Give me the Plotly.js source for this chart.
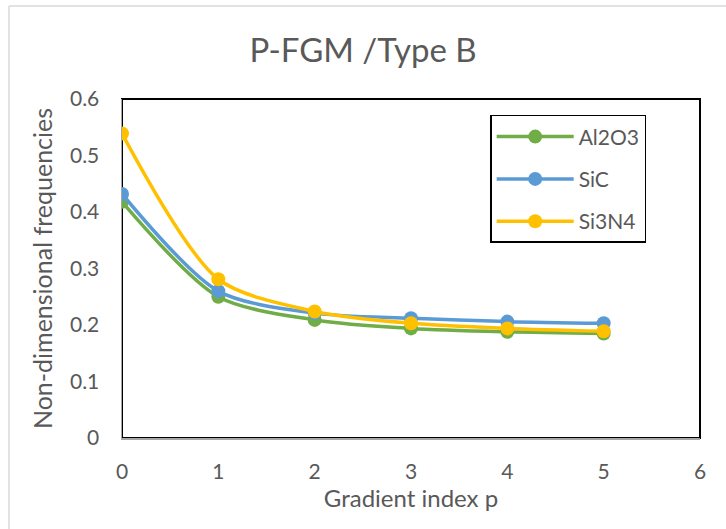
<!DOCTYPE html>
<html><head><meta charset="utf-8">
<script src="https://cdn.plot.ly/plotly-3.0.1.min.js"></script>
<style>body{margin:0;padding:0;background:#fff}#chart{width:726px;height:529px}</style>
</head><body><div id="chart"></div>
<script>
const gradientIndex = [0, 1, 2, 3, 4, 5];
const al2o3 = [0.418, 0.250, 0.209, 0.194, 0.188, 0.185];
const sic = [0.432, 0.260, 0.221, 0.212, 0.206, 0.203];
const si3n4 = [0.539, 0.281, 0.224, 0.203, 0.194, 0.189];
const seriesNames = ['Al2O3', 'SiC', 'Si3N4'];
const seriesColors = ['#70AD47', '#5B9BD5', '#FFC000'];
const yTicks = [0, 0.1, 0.2, 0.3, 0.4, 0.5, 0.6];
const yTickText = ['0', '0.1', '0.2', '0.3', '0.4', '0.5', '0.6'];
const xTicks = [0, 1, 2, 3, 4, 5, 6];

const allY = [al2o3, sic, si3n4];
const traces = allY.map((ys, i) => ({
  x: gradientIndex, y: ys, name: seriesNames[i], type: 'scatter', mode: 'lines+markers',
  legendgroup: 'g' + i,
  line: {color: seriesColors[i], width: 3.5, shape: 'spline', smoothing: 0.8},
  marker: {color: seriesColors[i], size: 14}
}));

const font = 'Lato, "Open Sans", "Liberation Sans", sans-serif';
const grey = '#595959';
const layout = {
  width: 726, height: 529,
  margin: {l: 122, r: 26, t: 99, b: 91},
  paper_bgcolor: '#fff', plot_bgcolor: '#fff',
  font: {family: font, color: grey, size: 21},
  title: {text: 'P-FGM /Type B', font: {size: 33, color: grey, family: font}, x: 0.5, xanchor: 'center', y: 0.905, yanchor: 'middle'},
  xaxis: {range: [0, 6], tickvals: xTicks, showgrid: false, zeroline: false, showline: true,
          linecolor: '#A6A6A6', linewidth: 1.5, ticks: 'outside', ticklen: 14, tickcolor: 'rgba(0,0,0,0)',
          title: {text: 'Gradient index p', font: {size: 24, color: grey}, standoff: 7},
          tickfont: {size: 21, color: grey}},
  yaxis: {range: [0, 0.6], tickvals: yTicks, ticktext: yTickText, showgrid: false, zeroline: false, showline: true,
          linecolor: '#A6A6A6', linewidth: 1.5, ticks: 'outside', ticklen: 17, tickcolor: 'rgba(0,0,0,0)',
          title: {text: 'Non-dimensional frequencies', font: {size: 25, color: grey}, standoff: 10},
          tickfont: {size: 21, color: grey}},
  showlegend: true,
  legend: {x: 0.637, y: 0.953, xanchor: 'left', yanchor: 'top', bgcolor: '#fff', bordercolor: '#000', borderwidth: 1.5,
           font: {size: 21, color: grey}, traceorder: 'grouped', tracegroupgap: 12, itemwidth: 77},
  shapes: [
    {type: 'rect', xref: 'paper', yref: 'paper', x0: 0, x1: 1, y0: 0, y1: 1, line: {color: '#000', width: 2}, layer: 'below'},
    {type: 'line', xref: 'paper', yref: 'paper', x0: -0.1955, x1: 1.05, y0: 1.2743, y1: 1.2743, line: {color: '#D9D9D9', width: 1.5}},
    {type: 'line', xref: 'paper', yref: 'paper', x0: -0.1955, x1: -0.1955, y0: 1.2743, y1: -0.3, line: {color: '#D9D9D9', width: 1.5}}
  ]
};
Plotly.newPlot('chart', traces, layout, {displayModeBar: false, staticPlot: true});
</script></body></html>
